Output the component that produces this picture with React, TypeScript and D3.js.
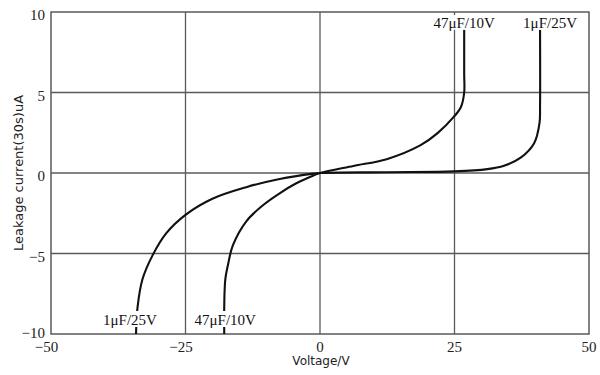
import * as d3 from "d3";

// Voltage (V) / leakage current (uA)
const cap47Volt = [-17.8, -17.8, -17.6, -17.1, -16.2, -13.7, -10.6, -7.5, -4.4, -1.2, 0, 6.2, 12.4, 18.7, 21.8, 24.9, 26.2, 26.8, 26.8, 26.8];
const cap47Curr = [-10, -8.3, -6.6, -5.7, -4.5, -3.0, -2.0, -1.26, -0.64, -0.15, 0, 0.44, 0.86, 1.73, 2.46, 3.5, 4.1, 5.0, 6.2, 8.9];

const cap1Volt = [-34.2, -33.9, -33.0, -31.1, -28.6, -25, -20, -13.7, -7.5, -1.2, 0, 12.4, 25, 31.1, 34.2, 37.3, 39.8, 40.8, 40.9, 40.9];
const cap1Curr = [-10, -8.3, -6.6, -5.1, -3.75, -2.6, -1.6, -0.88, -0.37, -0.04, 0, 0.05, 0.1, 0.24, 0.45, 0.95, 1.85, 3.1, 4.2, 8.9];

const seriesNames = ["47μF/10V", "1μF/25V"];
const xTicks = [-50, -25, 0, 25, 50];
const yTicks = [-10, -5, 0, 5, 10];

const W = 600;
const H = 375;
const margin = { top: 12, right: 11, bottom: 41, left: 51 };

const serif = "'Liberation Serif', 'Times New Roman', serif";
const sans = "'DejaVu Sans', sans-serif";

const fmt = (v: number) => (v < 0 ? "\u2212" + Math.abs(v) : String(v));

export default function App() {
  const x = d3.scaleLinear().domain([-50, 50]).range([margin.left, W - margin.right]);
  const y = d3.scaleLinear().domain([-10, 10]).range([H - margin.bottom, margin.top]);

  const series = [
    { name: seriesNames[0], pts: cap47Volt.map((v, i) => [v, cap47Curr[i]] as [number, number]), topDx: 0, botDx: 1 },
    { name: seriesNames[1], pts: cap1Volt.map((v, i) => [v, cap1Curr[i]] as [number, number]), topDx: 10, botDx: -6 },
  ];

  const line = d3
    .line<[number, number]>()
    .x((d) => x(d[0]))
    .y((d) => y(d[1]))
    .curve(d3.curveCatmullRom.alpha(0.5));

  const grid = "#5a5a5a";
  const x0 = x.range()[0];
  const x1 = x.range()[1];
  const y0 = y.range()[1];
  const y1 = y.range()[0];

  return (
    <div style={{ position: "absolute", left: 0, top: 0 }}>
      <svg width={W} height={H} style={{ display: "block", background: "#fff" }}>
        {/* grid */}
        {xTicks.slice(1, -1).map((t) => (
          <line key={"gx" + t} x1={x(t)} x2={x(t)} y1={y0} y2={y1} stroke={grid} strokeWidth={1.3} />
        ))}
        {yTicks.slice(1, -1).map((t) => (
          <line key={"gy" + t} x1={x0} x2={x1} y1={y(t)} y2={y(t)} stroke={grid} strokeWidth={1.3} />
        ))}
        <rect x={x0} y={y0} width={x1 - x0} height={y1 - y0} fill="none" stroke={grid} strokeWidth={1.5} />

        {/* curves */}
        {series.map((s) => (
          <path key={s.name} d={line(s.pts) || ""} fill="none" stroke="#111" strokeWidth={2.1} />
        ))}

        {/* curve labels */}
        {series.map((s) => {
          const top = s.pts[s.pts.length - 1];
          const bot = s.pts[0];
          const tx = x(top[0]) + s.topDx;
          const bx = x(bot[0]) + s.botDx;
          const w = s.name.length * 7.6;
          return (
            <g key={"lab" + s.name} fontFamily={serif} fontSize={15} fill="#111" textAnchor="middle">
              <rect x={tx - w / 2} y={y0 + 3} width={w} height={y(top[1]) - y0 - 3} fill="#fff" />
              <text x={tx} y={y0 + 16}>{s.name}</text>
              <rect x={bx - w / 2} y={y1 - 23} width={w} height={16} fill="#fff" />
              <text x={bx} y={y1 - 9}>{s.name}</text>
            </g>
          );
        })}

        {/* axes labels */}
        {xTicks.map((t) => (
          <text key={"xt" + t} x={x(t) - (t < 0 ? 4.5 : 0)} y={y1 + 18} textAnchor="middle" fontFamily={serif} fontSize={15} fill="#222">
            {fmt(t)}
          </text>
        ))}
        {yTicks.map((t) => (
          <text key={"yt" + t} x={x0 - 6} y={y(t) + (t === -10 ? 4 : 8)} textAnchor="end" fontFamily={serif} fontSize={15} fill="#222">
            {fmt(t)}
          </text>
        ))}
        <text x={x(0) + 1} y={y1 + 31} textAnchor="middle" fontFamily={sans} fontSize={12} fill="#222">
          Voltage/V
        </text>
        <text
          transform={`translate(23,${(y0 + y1) / 2}) rotate(-90)`}
          textAnchor="middle"
          fontFamily={sans}
          fontSize={13}
          fill="#222"
        >
          Leakage current(30s)uA
        </text>
      </svg>
    </div>
  );
}
